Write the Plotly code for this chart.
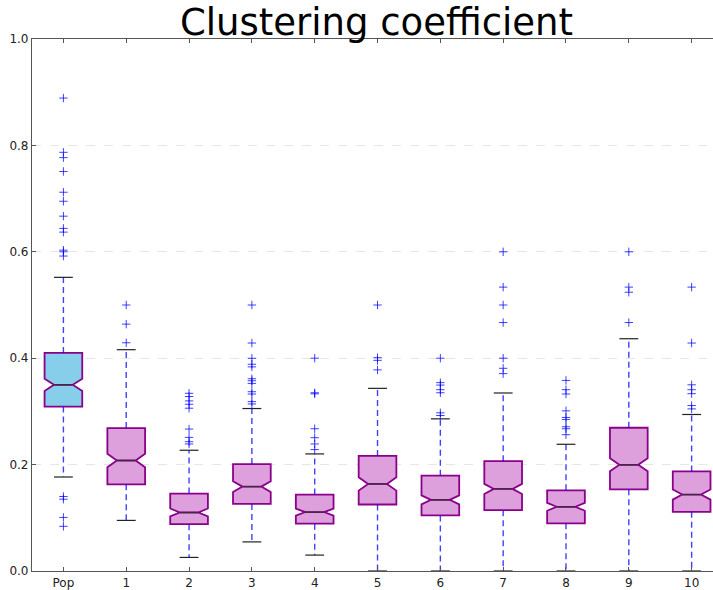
import plotly.graph_objects as go

categories = ["Pop", "1", "2", "3", "4", "5", "6", "7", "8", "9", "10"]
positions = list(range(1, 12))
q1 = [0.309, 0.163, 0.088, 0.126, 0.089, 0.125, 0.1045, 0.1144, 0.0896, 0.1536, 0.1113]
median = [0.350, 0.2077, 0.110, 0.1586, 0.1107, 0.1636, 0.1337, 0.1543, 0.1207, 0.1996, 0.1437]
q3 = [0.410, 0.2687, 0.1455, 0.2009, 0.1437, 0.2164, 0.1791, 0.2065, 0.1517, 0.2693, 0.1872]
whisker_low = [0.1767, 0.0951, 0.0255, 0.0547, 0.0299, 0.0, 0.0, 0.0, 0.0, 0.0, 0.0]
whisker_high = [0.552, 0.416, 0.227, 0.3054, 0.2201, 0.3433, 0.286, 0.3346, 0.2382, 0.4366, 0.2942]
notch_half = [0.0115, 0.0125, 0.0075, 0.0102, 0.0066, 0.0125, 0.0084, 0.0095, 0.0075, 0.0122, 0.0095]
fliers = [
    [0.889, 0.787, 0.777, 0.751, 0.712, 0.695, 0.667, 0.644, 0.637, 0.603, 0.600, 0.592,
     0.140, 0.135, 0.1007, 0.084],
    [0.500, 0.464, 0.429],
    [0.334, 0.328, 0.3197, 0.3134, 0.306, 0.2668, 0.2512, 0.243, 0.2388],
    [0.500, 0.4285, 0.3998, 0.3886, 0.3837, 0.3614, 0.3576, 0.3526, 0.337, 0.3327, 0.3184, 0.314],
    [0.400, 0.335, 0.333, 0.2674, 0.2506, 0.2388, 0.2282],
    [0.500, 0.401, 0.396, 0.378],
    [0.400, 0.354, 0.3495, 0.3408, 0.335, 0.2973, 0.2923],
    [0.600, 0.5336, 0.500, 0.467, 0.400, 0.381, 0.371],
    [0.3582, 0.3408, 0.3327, 0.301, 0.2886, 0.2849, 0.2711, 0.2674, 0.2562],
    [0.600, 0.5336, 0.524, 0.467],
    [0.5336, 0.4285, 0.350, 0.3408, 0.3333, 0.311, 0.3047],
]
box_colors = ["#87CEEB"] + ["#DDA0DD"] * 10
y_ticks = [0.0, 0.2, 0.4, 0.6, 0.8, 1.0]
y_tick_labels = ["0.0", "0.2", "0.4", "0.6", "0.8", "1.0"]

BOX_W = 0.6
CAP_HALF = 0.15

fig = go.Figure()

for i, p in enumerate(positions):
    fig.add_trace(go.Box(
        x=[p], q1=[q1[i]], median=[median[i]], q3=[q3[i]],
        lowerfence=[q1[i]], upperfence=[q3[i]],
        notched=True, notchspan=[notch_half[i]], notchwidth=0.25,
        width=BOX_W, whiskerwidth=0, boxpoints=False,
        fillcolor=box_colors[i],
        line=dict(color="#8B008B", width=1.8),
        showlegend=False, hoverinfo="skip",
    ))

# whiskers
wx, wy = [], []
for i, p in enumerate(positions):
    wx += [p, p, None, p, p, None]
    wy += [q3[i], whisker_high[i], None, q1[i], whisker_low[i], None]
fig.add_trace(go.Scatter(x=wx, y=wy, mode="lines",
                         line=dict(color="rgba(0,0,255,0.75)", width=1.4, dash="6px,4px"),
                         showlegend=False, hoverinfo="skip"))

# caps
cx, cy = [], []
for i, p in enumerate(positions):
    cx += [p - CAP_HALF, p + CAP_HALF, None, p - CAP_HALF, p + CAP_HALF, None]
    cy += [whisker_high[i], whisker_high[i], None, whisker_low[i], whisker_low[i], None]
fig.add_trace(go.Scatter(x=cx, y=cy, mode="lines",
                         line=dict(color="#222222", width=1.2),
                         showlegend=False, hoverinfo="skip"))

# medians
mx, my = [], []
for i, p in enumerate(positions):
    mx += [p - BOX_W / 4, p + BOX_W / 4, None]
    my += [median[i], median[i], None]
fig.add_trace(go.Scatter(x=mx, y=my, mode="lines",
                         line=dict(color="#333333", width=1.2),
                         showlegend=False, hoverinfo="skip"))

# fliers
fx, fy = [], []
for i, p in enumerate(positions):
    fx += [p] * len(fliers[i])
    fy += fliers[i]
fig.add_trace(go.Scatter(x=fx, y=fy, mode="markers",
                         marker=dict(symbol="cross-thin-open", size=6,
                                     color="rgba(0,0,255,0.75)",
                                     line=dict(width=1, color="rgba(0,0,255,0.75)")),
                         showlegend=False, hoverinfo="skip"))

fig.update_layout(
    width=713, height=590,
    margin=dict(l=32, r=0, t=39, b=15),
    paper_bgcolor="white", plot_bgcolor="white",
    font=dict(family="DejaVu Sans", size=12, color="#222222"),
    title=dict(text="Clustering coefficient", x=0.528, xanchor="center",
               y=1 - 22 / 590, yanchor="middle", yref="container",
               font=dict(family="DejaVu Sans", size=37, color="black")),
)
fig.update_xaxes(
    range=[0.5, 11.34], tickmode="array", tickvals=positions, ticktext=categories,
    ticks="inside", ticklen=4, tickcolor="#555555",
    showline=True, linecolor="#555555", linewidth=1.2, mirror="ticks",
    showgrid=False, zeroline=False,
)
fig.update_yaxes(
    range=[0, 1.0], tickmode="array", tickvals=y_ticks, ticktext=y_tick_labels,
    ticks="inside", ticklen=4, tickcolor="#555555",
    showline=True, linecolor="#555555", linewidth=1.2,
    showgrid=True, gridcolor="#e6e6e6", griddash="dash", gridwidth=1,
    zeroline=False,
)

fig.write_html("out.html", config={"displayModeBar": False},
               post_script="document.body.style.margin='0';document.body.style.overflow='hidden';")
